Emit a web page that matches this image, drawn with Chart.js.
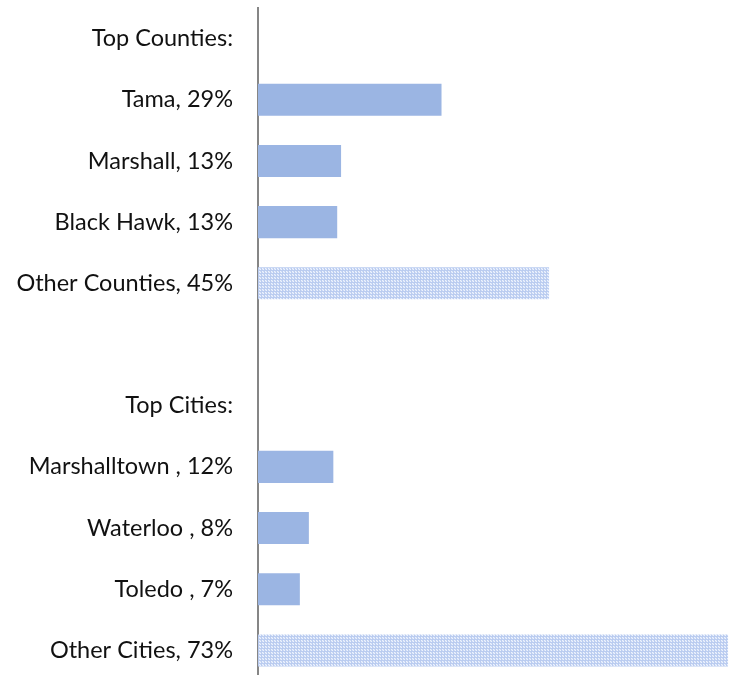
<!DOCTYPE html>
<html>
<head>
<meta charset="utf-8">
<script src="https://cdn.jsdelivr.net/npm/chart.js@4"></script>
<style>
  html, body { margin: 0; padding: 0; background: #fff; overflow: hidden; }
  canvas { display: block; }
</style>
</head>
<body>
<canvas id="chart" width="730" height="681"></canvas>
<script>
const categories = ['Top Counties:', 'Tama, 29%', 'Marshall, 13%', 'Black Hawk, 13%', 'Other Counties, 45%', '',
    'Top Cities:', 'Marshalltown , 12%', 'Waterloo , 8%', 'Toledo , 7%', 'Other Cities, 73%'];
const shares = [null, 28.5, 12.9, 12.3, 45.2, null, null, 11.7, 7.9, 6.5, 73.0];
const isOther = [false, false, false, false, true, false, false, false, false, false, true];

// fine dotted grid pattern for the "Other" bars
const pc = document.createElement('canvas');
pc.width = 3; pc.height = 3;
const pctx = pc.getContext('2d');
pctx.fillStyle = 'rgb(208,221,246)';
pctx.fillRect(0, 0, 3, 3);
pctx.fillStyle = 'rgb(186,204,240)';
pctx.fillRect(0, 0, 3, 1);
pctx.fillRect(0, 0, 1, 3);
pctx.fillStyle = 'rgb(238,243,253)';
pctx.fillRect(1, 1, 1, 1);
pctx.fillRect(2, 2, 1, 1);

const ctx = document.getElementById('chart').getContext('2d');
const pattern = ctx.createPattern(pc, 'repeat');

new Chart(ctx, {
    type: 'bar',
    data: {
        labels: categories,
        datasets: [{
            data: shares,
            backgroundColor: isOther.map(o => o ? pattern : 'rgb(155,181,227)'),
            borderWidth: 0,
            categoryPercentage: 1,
            barPercentage: 0.524
        }]
    },
    options: {
        indexAxis: 'y',
        responsive: false,
        animation: false,
        layout: { padding: { top: 8, right: 0, bottom: 0, left: 0 } },
        plugins: { legend: { display: false }, tooltip: { enabled: false } },
        scales: {
            x: {
                display: false,
                min: 0,
                max: 73.3
            },
            y: {
                afterFit: s => { s.width = 258; s.paddingTop = 0; s.paddingBottom = 0; },
                grid: { display: false, drawTicks: false },
                border: { display: true, color: 'rgb(134,134,134)', width: 2 },
                ticks: {
                    padding: 25,
                    color: '#111',
                    font: { family: 'Lato', size: 23.5 }
                }
            }
        }
    }
});
</script>
</body>
</html>
